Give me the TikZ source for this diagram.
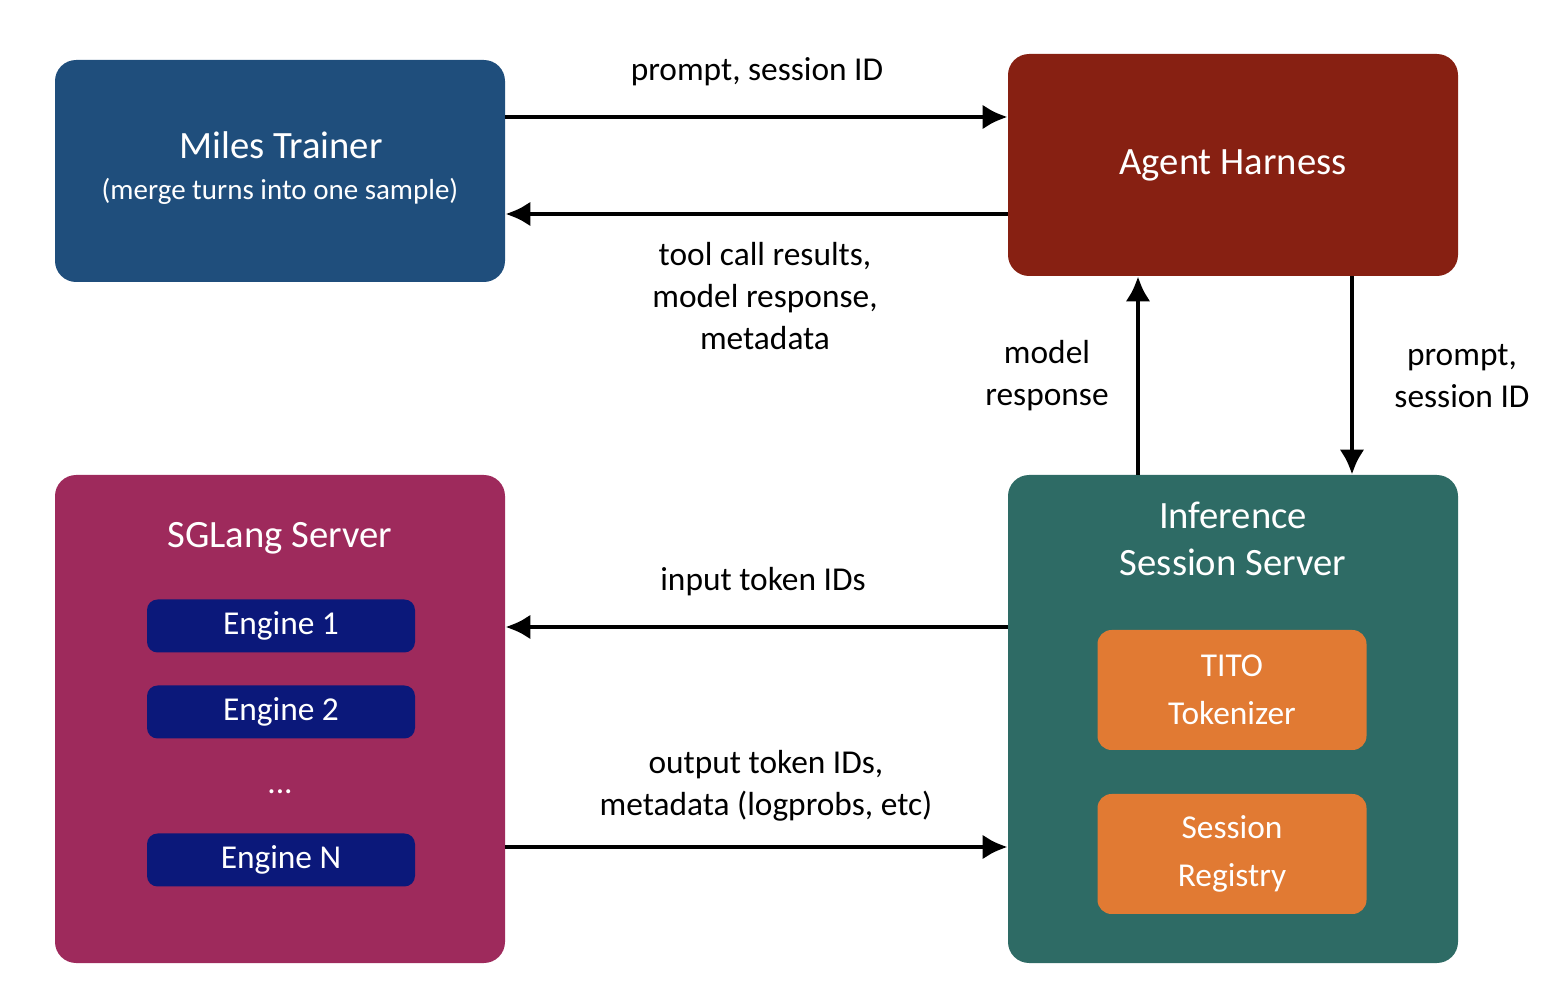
\documentclass[tikz,border=0pt]{standalone}
\usepackage{fontspec}
\setmainfont{Carlito}
\usetikzlibrary{calc}
\usetikzlibrary{arrows.meta}
\definecolor{trainerblue}{HTML}{1F4E7C}
\definecolor{harnessred}{HTML}{872012}
\definecolor{sglangpink}{HTML}{9E2A5C}
\definecolor{sessiongreen}{HTML}{2E6B65}
\definecolor{enginenavy}{HTML}{0B187A}
\definecolor{toolorange}{HTML}{E17A33}
\tikzset{
  bigbox/.style={rounded corners=12pt, minimum width=450*0.2mm, text=white, align=center},
  boxtitle/.style={text=white, align=center, font=\fontsize{22}{27}\selectfont},
  enginebox/.style={fill=enginenavy, rounded corners=6pt, minimum width=268*0.2mm, minimum height=53*0.2mm, text=white, font=\fontsize{19}{22}\selectfont},
  partbox/.style={fill=toolorange, rounded corners=8pt, minimum width=269*0.2mm, minimum height=120*0.2mm, text=white, align=center, font=\fontsize{19}{27}\selectfont},
  flow/.style={line width=2.8pt, -{Latex[length=5mm,width=5mm]}},
  lbl/.style={align=center, font=\fontsize{19}{24}\selectfont}
}
\begin{document}
\begin{tikzpicture}[x=0.2mm, y=-0.2mm]
    \useasboundingbox (0,0) rectangle (1560,1002);

    % upper row
    \node[bigbox, fill=trainerblue, minimum height=222*0.2mm] (miles) at (280,171) {};
    \node[boxtitle] (milestitle) at (281,145) {Miles Trainer};
    \node[text=white, font=\fontsize{16.5}{20}\selectfont] (milesnote) at (280,191) {(merge turns into one sample)};
    \node[bigbox, fill=harnessred, minimum height=222*0.2mm, font=\fontsize{22}{27}\selectfont] (agent) at (1233,165) {Agent Harness};

    % lower row
    \node[bigbox, fill=sglangpink, minimum height=488*0.2mm] (sglang) at (280,719) {};
    \node[boxtitle] (sgtitle) at (280,538) {SGLang Server};
    \node[enginebox] (eng1) at (281,626) {Engine 1};
    \node[enginebox] (eng2) at (281,712) {Engine 2};
    \node[text=white, font=\fontsize{19}{22}\selectfont] (dots) at (280,792) {...};
    \node[enginebox] (engN) at (281,860) {Engine N};

    \node[bigbox, fill=sessiongreen, minimum height=488*0.2mm] (inf) at (1233,719) {};
    \node[boxtitle] (inftitle) at (1233,539) {Inference\\Session Server};
    \node[partbox] (tito) at (1232,690) {TITO\\Tokenizer};
    \node[partbox] (registry) at (1232,854) {Session\\Registry};

    % connectors
    \draw[flow] ($(miles.east)+(0,-54)$) -- ($(agent.west)+(0,-48)$);
    \draw[flow] ($(agent.west)+(0,49)$) -- ($(miles.east)+(0,43)$);
    \draw[flow] ($(inf.north)+(-95,0)$) -- ($(agent.south)+(-95,0)$);
    \draw[flow] ($(agent.south)+(119,0)$) -- ($(inf.north)+(119,0)$);
    \draw[flow] ($(inf.west)+(0,-92)$) -- ($(sglang.east)+(0,-92)$);
    \draw[flow] ($(sglang.east)+(0,128)$) -- ($(inf.west)+(0,128)$);

    % labels
    \node[lbl] (l1) at (757,72) {prompt, session ID};
    \node[lbl] (l2) at (765,296) {tool call results,\\model response,\\metadata};
    \node[lbl] (l3) at (1047,376) {model\\response};
    \node[lbl] (l4) at (1462,376) {prompt,\\session ID};
    \node[lbl] (l5) at (763,582) {input token IDs};
    \node[lbl] (l6) at (766,786) {output token IDs,\\metadata (logprobs, etc)};
\end{tikzpicture}
\end{document}
